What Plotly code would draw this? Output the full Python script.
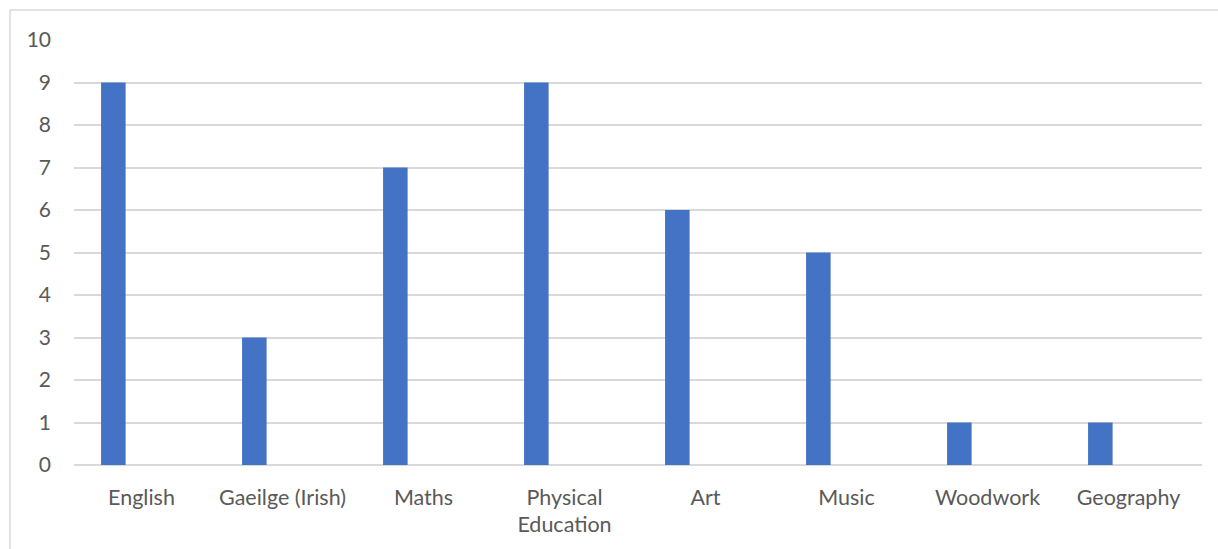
import plotly.graph_objects as go

subjects = ["English", "Gaeilge (Irish)", "Maths", "Physical<br>Education",
            "Art", "Music", "Woodwork", "Geography"]
counts = [9, 3, 7, 9, 6, 5, 1, 1]
y_ticks = list(range(0, 11))

W, H = 1218, 549
L, R, T, B = 74, 16, 40, 84
pw, ph = W - L - R, H - T - B

fig = go.Figure()
fig.add_trace(go.Bar(
    x=subjects, y=counts,
    marker=dict(color="#4472c4", line=dict(width=0)),
    width=0.174, offset=-0.308,
    hoverinfo="x+y",
))

fig.update_layout(
    width=W, height=H,
    margin=dict(l=L, r=R, t=T, b=B),
    paper_bgcolor="white", plot_bgcolor="white",
    showlegend=False,
    font=dict(family="Lato, Open Sans, sans-serif", color="#595959", size=21),
    xaxis=dict(
        type="category", showgrid=False, zeroline=False, showline=False,
        ticks="", tickfont=dict(size=21.5), ticklabelstandoff=17,
        ticklabelshift=-3,
        range=[-0.5, len(subjects) - 0.5],
    ),
    yaxis=dict(
        range=[0, 10], tickvals=y_ticks, showgrid=True,
        gridcolor="#d9d9d9", gridwidth=1.5, zeroline=True,
        zerolinecolor="#d9d9d9", zerolinewidth=1.5, showline=False,
        ticks="", tickfont=dict(size=21), ticklabelstandoff=22,
    ),
    shapes=[
        dict(type="rect", xref="paper", yref="paper",
             x0=(10 - L) / pw, x1=(W + 20 - L) / pw,
             y0=-(H + 20 - T - ph) / ph, y1=1 + (T - 10) / ph,
             line=dict(color="#d9d9d9", width=1.5), layer="below"),
    ],
)

fig.write_html("out.html")
